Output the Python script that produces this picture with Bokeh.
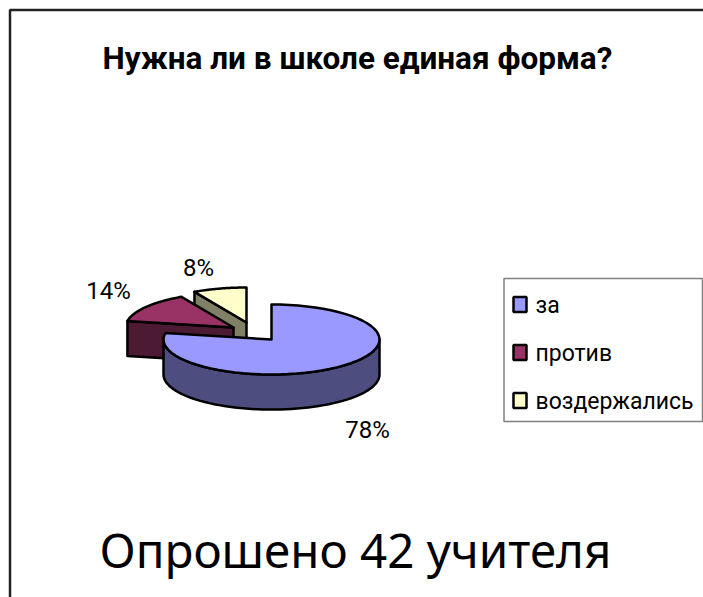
import numpy as np
from bokeh.plotting import figure
from bokeh.embed import file_html
from bokeh.resources import INLINE
from bokeh.core.properties import value
from bokeh.models import Range1d

title_text = "Нужна ли в школе единая форма?"
caption_text = "Опрошено 42 учителя"
categories = ["за", "против", "воздержались"]
shares = [78, 14, 8]
share_labels = ["78%", "14%", "8%"]
top_colors = ["#9999FF", "#993366", "#FFFFCC"]
side_colors = ["#4D4D80", "#4D1A33", "#808066"]

W, H = 703, 597
p = figure(width=W, height=H, output_backend="svg", toolbar_location=None,
           x_range=Range1d(0, W), y_range=Range1d(H, 0), min_border=0,
           outline_line_color=None, background_fill_color="white")
p.xaxis.visible = False
p.yaxis.visible = False
p.grid.visible = False

A, B, D = 108, 35, 35
apexes = [(271, 339), (233, 327), (246, 322)]
edge = dict(line_color="black", line_width=2.5, line_join="round")

cum = np.cumsum([0] + shares) / 100 * 2 * np.pi
def rim(ax, ay, t0, t1, n=60):
    t = np.linspace(t0, t1, n)
    return ax + A * np.sin(t), ay - B * np.cos(t)

# frame: top and left only, running off the picture
p.line([9.5, 9.5, 703], [597, 9.5, 9.5], line_color="#222222", line_width=2.5)

# slices, drawn back to front
for i in [2, 1, 0]:
    ax, ay = apexes[i]
    t0, t1 = cum[i], cum[i + 1]
    if i == 0:
        rx, ry = rim(ax, ay, np.pi / 2, np.pi * 1.5)
        p.patch(np.r_[rx, rx[::-1]], np.r_[ry, ry[::-1] + D], fill_color=side_colors[i], **edge)
    else:
        ex, ey = ax + A * np.sin(t0), ay - B * np.cos(t0)
        p.patch(np.array([ex, ax, ax, ex]), np.array([ey, ay, ay + D, ey + D]),
                fill_color=side_colors[i], **edge)
    rx, ry = rim(ax, ay, t0, t1)
    p.patch(np.r_[ax, rx], np.r_[ay, ry], fill_color=top_colors[i], **edge)

# value labels
label_font = value("Roboto")
for txt, x, y in zip(share_labels, [367, 108, 198], [429, 290, 267]):
    p.text([x], [y], text=[txt], text_font=label_font, text_font_size="24px",
           text_color="black", text_align="center", text_baseline="middle")

# legend
p.quad(left=[503.5], right=[702], top=[278], bottom=[421], fill_color="white",
       line_color="#808080", line_width=1.5)
for name, col, y in zip(categories, top_colors, [304, 352, 400]):
    p.rect([519.5], [y], width=13, height=15, fill_color=col, line_color="black", line_width=2.5)
    p.text([535], [y + 1], text=[name], text_font=label_font, text_font_size="23px",
           text_color="black", text_align="left", text_baseline="middle")

# title and caption
p.text([357], [58], text=[title_text], text_font=label_font, text_font_style="bold",
       text_font_size="31.5px", text_color="black", text_align="center", text_baseline="middle")
p.text([355], [549], text=[caption_text], text_font=value("Noto Sans"),
       text_font_size="47.5px", text_color="black", text_align="center", text_baseline="middle")

open("out.html", "w").write(file_html(p, INLINE))
